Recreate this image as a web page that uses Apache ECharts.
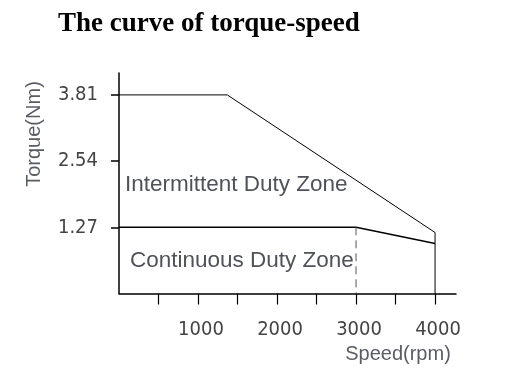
<!DOCTYPE html>
<html><head><meta charset="utf-8">
<script src="https://cdn.jsdelivr.net/npm/echarts@6/dist/echarts.min.js"></script>
<style>html,body{margin:0;padding:0;background:#fff}#c{width:523px;height:373px}</style>
</head><body><div id="c"></div>
<script>
// Data
var intermittentCurve = [[0, 3.81], [1370, 3.81], [4000, 1.17], [4000, 0]];
var continuousCurve = [[0, 1.27], [3000, 1.27], [4000, 0.96]];
var continuousLimit = [[3000, 1.27], [3000, 0]];
var speedTicks = [500, 1000, 1500, 2000, 2500, 3000, 3500, 4000];
var speedLabels = [1000, 2000, 3000, 4000];
var torqueTicks = [1.27, 2.54, 3.81];

var tickFont = "'Liberation Sans Narrow','DejaVu Sans Condensed',sans-serif";
var chart = echarts.init(document.getElementById('c'), null, {renderer: 'canvas'});
chart.setOption({
  animation: false,
  title: {
    text: 'The curve of torque-speed', left: 53, top: 6,
    textStyle: {fontFamily: "'Liberation Serif',serif", fontWeight: 'bold', fontSize: 27, color: '#000'}
  },
  grid: {left: 119, right: 67, top: 73, bottom: 79.5, containLabel: false},
  xAxis: {
    type: 'value', min: 0, max: 4265,
    splitLine: {show: false},
    axisLine: {show: true, lineStyle: {color: '#000', width: 1.5}},
    axisTick: {show: true, length: 11, inside: false, customValues: speedTicks, lineStyle: {color: '#000', width: 1.2}},
    axisLabel: {customValues: speedLabels, margin: 26, fontFamily: tickFont, fontSize: 20, color: '#444', padding: [0, 0, 0, 6],
      formatter: function (v) { return String(Math.round(v)); }}
  },
  yAxis: {
    type: 'value', min: 0, max: 4.23,
    splitLine: {show: false},
    axisLine: {show: true, lineStyle: {color: '#000', width: 1.5}},
    axisTick: {show: true, length: 8, inside: false, customValues: torqueTicks, lineStyle: {color: '#000', width: 1.5}},
    axisLabel: {customValues: torqueTicks, margin: 21, fontFamily: tickFont, fontSize: 20, color: '#444',
      formatter: function (v) { return Number(v).toFixed(2); }}
  },
  series: [
    {type: 'line', data: intermittentCurve, symbol: 'none', lineStyle: {color: '#000', width: 1}},
    {type: 'line', data: continuousCurve, symbol: 'none', lineStyle: {color: '#000', width: 1.5}},
    {type: 'line', data: continuousLimit, symbol: 'none', lineStyle: {color: '#555', width: 1, type: [8, 5]}}
  ],
  graphic: [
    {type: 'text', x: 125, y: 185, style: {text: 'Intermittent Duty Zone', font: "22.5px 'Liberation Sans',Arial,sans-serif", fill: '#4f5258', textAlign: 'left', textVerticalAlign: 'middle'}},
    {type: 'text', x: 130, y: 260.5, style: {text: 'Continuous Duty Zone', font: "22.5px 'Liberation Sans',Arial,sans-serif", fill: '#4f5258', textAlign: 'left', textVerticalAlign: 'middle'}},
    {type: 'text', x: 398, y: 354, style: {text: 'Speed(rpm)', font: "20px 'Liberation Sans',Arial,sans-serif", fill: '#5a5d63', textAlign: 'center', textVerticalAlign: 'middle'}},
    {type: 'text', x: 34, y: 134, rotation: Math.PI / 2, style: {text: 'Torque(Nm)', font: "20px 'Liberation Sans',Arial,sans-serif", fill: '#5a5d63', textAlign: 'center', textVerticalAlign: 'middle'}}
  ]
});
</script></body></html>
